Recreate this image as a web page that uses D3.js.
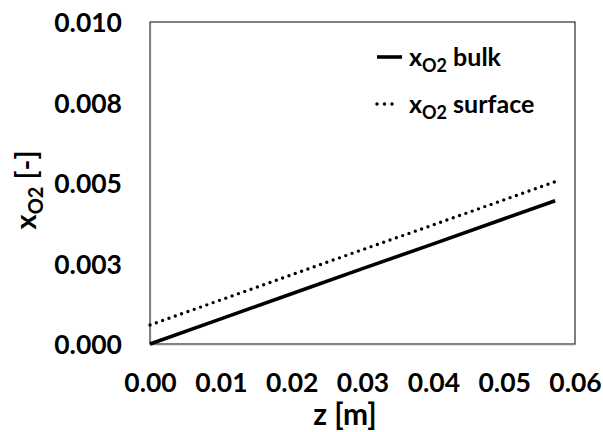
<!DOCTYPE html>
<html><head><meta charset="utf-8">
<script src="https://cdn.jsdelivr.net/npm/d3@7"></script>
<style>
html,body{margin:0;padding:0;background:#fff;}
text{font-family:Lato,"Open Sans",sans-serif;font-weight:700;fill:#000;}
</style></head>
<body><svg id="c" width="603" height="432"></svg>
<script>
// data
const zValues      = [0, 0.01, 0.02, 0.03, 0.04, 0.05, 0.0572];
const bulkValues   = [0, 0.00078, 0.00156, 0.00234, 0.00311, 0.00389, 0.00445];
const surfValues   = [0.00059, 0.00137, 0.00215, 0.00293, 0.00370, 0.00448, 0.00504];
const xTicks       = [0, 0.01, 0.02, 0.03, 0.04, 0.05, 0.06];
const xTickLabels  = ["0.00","0.01","0.02","0.03","0.04","0.05","0.06"];
const yTicks       = [0, 0.0025, 0.005, 0.0075, 0.01];
const yTickLabels  = ["0.000","0.003","0.005","0.008","0.010"];
const seriesNames  = ["bulk","surface"];

const svg = d3.select("#c");
const L = 150, R = 575, T = 22, B = 344;
const x = d3.scaleLinear().domain([0, 0.06]).range([L, R]);
const y = d3.scaleLinear().domain([0, 0.01]).range([B, T]);

// plot border
svg.append("rect").attr("x", L).attr("y", T).attr("width", R - L).attr("height", B - T)
  .attr("fill", "none").attr("stroke", "#000").attr("stroke-width", 1);

// axes
const xAxis = d3.axisBottom(x).tickValues(xTicks).tickSize(0)
  .tickFormat((d, i) => xTickLabels[i]);
const gx = svg.append("g").attr("transform", `translate(0,${B})`).call(xAxis);
gx.select(".domain").attr("stroke", "#868686").attr("stroke-width", 1.3);
gx.selectAll("text").attr("font-size", 26.5).attr("dy", null).attr("y", 48)
  .attr("font-family", "Lato").attr("font-weight", 700);

const yAxis = d3.axisLeft(y).tickValues(yTicks).tickSize(0)
  .tickFormat((d, i) => yTickLabels[i]);
const gy = svg.append("g").attr("transform", `translate(${L},0)`).call(yAxis);
gy.select(".domain").attr("stroke", "#868686").attr("stroke-width", 1.3);
gy.selectAll("text").attr("font-size", 26.5).attr("x", -28).attr("dy", "0.36em")
  .attr("font-family", "Lato").attr("font-weight", 700);

// lines
const pts = (vals) => zValues.map((z, i) => [z, vals[i]]);
const line = d3.line().x(d => x(d[0])).y(d => y(d[1]));
svg.append("path").datum(pts(bulkValues)).attr("d", line)
  .attr("fill", "none").attr("stroke", "#000").attr("stroke-width", 3.6);
svg.append("path").datum(pts(surfValues)).attr("d", line)
  .attr("fill", "none").attr("stroke", "#000").attr("stroke-width", 3.4)
  .attr("stroke-linecap", "round").attr("stroke-dasharray", "0 6.7");

// axis titles
svg.append("text").attr("x", 345).attr("y", 425).attr("text-anchor", "middle")
  .attr("font-size", 30).text("z [m]");

const yt = svg.append("text").attr("transform", "translate(36,190) rotate(-90)")
  .attr("text-anchor", "middle").attr("font-size", 29);
yt.append("tspan").text("x");
yt.append("tspan").attr("font-size", 20).attr("dy", 7).text("O2");
yt.append("tspan").attr("dy", -7).text(" [-]");

// legend
const leg = svg.append("g");
seriesNames.forEach((name, i) => {
  const ly = 57 + i * 47;
  const ln = leg.append("line").attr("x1", 377).attr("x2", i ? 393 : 402)
    .attr("y1", ly).attr("y2", ly).attr("stroke", "#000");
  if (i) ln.attr("stroke-width", 3.4).attr("stroke-linecap", "round").attr("stroke-dasharray", "0 7.5");
  else ln.attr("stroke-width", 3.6);
  const t = leg.append("text").attr("x", 409).attr("y", ly + 9).attr("font-size", 25);
  t.append("tspan").text("x");
  t.append("tspan").attr("font-size", 18).attr("dy", 6).text("O2");
  t.append("tspan").attr("dy", -6).text(" " + name);
});
</script></body></html>
